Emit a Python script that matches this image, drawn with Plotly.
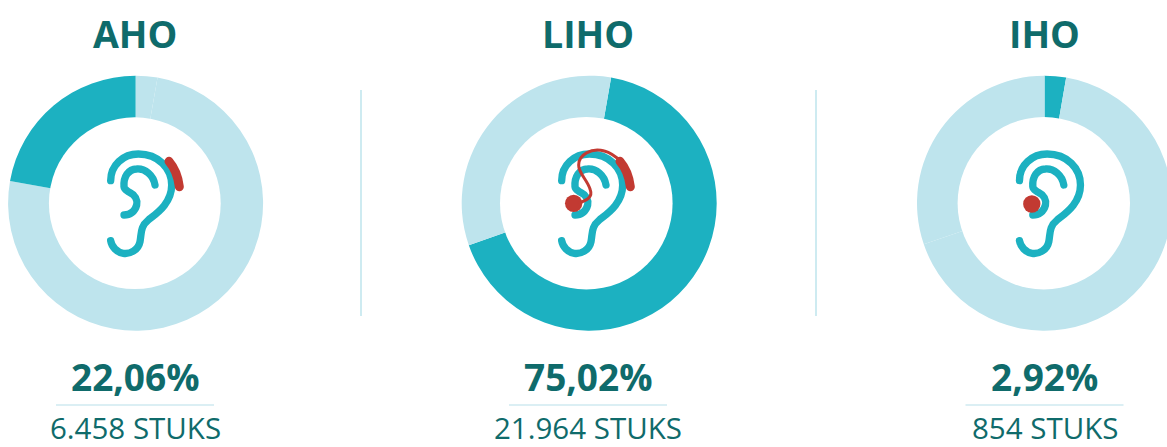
import base64
import plotly.graph_objects as go

categories = ["IHO", "LIHO", "AHO"]
percent_labels = ["2,92%", "75,02%", "22,06%"]
unit_labels = ["854 STUKS", "21.964 STUKS", "6.458 STUKS"]
# arc shares of each ring as drawn in the picture (clockwise from the ring's start angle)
aho_labels = ["IHO", "LIHO", "AHO"]
aho_ring = [2.75, 75.03, 22.22]
liho_labels = ["LIHO", "Overig"]
liho_ring = [66.9, 33.1]
iho_labels = ["IHO", "LIHO", "AHO"]
iho_ring = [2.72, 67.06, 30.22]

W, H = 1180, 447
DARK, LIGHT, TEXT = "#1cb1c1", "#bee4ed", "#0f6b6b"
FONT = "Open Sans"
R, CY = 127.5, 203.2
panels = [  # title, labels, ring values, start angle, ring centre, text centre, ear left, hole centre, hole radius
    (2, aho_labels, aho_ring, 0, 135.6, 135, 90, 134.8, 85.9),
    (1, liho_labels, liho_ring, 9.9, 589.2, 588, 541, 586.3, 86.3),
    (0, iho_labels, iho_ring, 0, 1044.5, 1044.5, 998.8, 1043.8, 86.2),
]


def px(x):
    return x / W


def py(y):
    return 1 - y / H


EAR = (
    '<g fill="none" stroke="#1cb1c1" stroke-width="22" stroke-linecap="round">'
    '<path d="M62,122 C62,75 100,42 145,42 C205,42 245,85 245,135 C245,190 200,220 175,240 '
    'C150,260 155,280 150,305 C145,330 120,343 100,340 C80,337 65,320 62,302"/>'
    '<path d="M195,135 C190,105 165,85 140,87 C115,88 100,110 102,140 C103,150 110,150 120,158 '
    'C135,165 143,180 140,195 C135,215 120,225 102,225"/></g>'
)
BAR = '<path d="M237,64 C255,85 265,115 268,140" fill="none" stroke="#c23a32" stroke-width="27" stroke-linecap="round"/>'
WIRE = ('<path d="M115,188 C140,180 155,170 148,150 C140,120 112,100 113,75 C113,45 150,22 190,33 '
        'C210,38 225,50 242,66" fill="none" stroke="#c23a32" stroke-width="9" stroke-linecap="round"/>')
DOT = '<circle cx="{}" cy="{}" r="26" fill="#c23a32"/>'
ICONS = {2: EAR + BAR, 1: EAR + BAR + DOT.format(98, 190) + WIRE, 0: EAR + DOT.format(99, 192)}


def uri(body, hole_r, dx, dy):
    s = 2 * hole_r + 2
    svg = (f'<svg xmlns="http://www.w3.org/2000/svg" viewBox="0 0 {s} {s}" width="{s}" height="{s}">'
           f'<circle cx="{s/2}" cy="{s/2}" r="{hole_r}" fill="white"/>'
           f'<g transform="translate({dx},{dy}) scale({1/3})">{body}</g></svg>')
    return "data:image/svg+xml;base64," + base64.b64encode(svg.encode()).decode()


fig = go.Figure()
annotations, shapes, images = [], [], []
for idx, labels, ring, start, cx, tx, ear_x, hole_x, hole_r in panels:
    colors = [DARK if lab == categories[idx] else LIGHT for lab in labels]
    fig.add_trace(go.Pie(
        labels=labels, values=ring, sort=False, direction="clockwise", rotation=start,
        hole=0.6, textinfo="none", hoverinfo="label", showlegend=False,
        marker=dict(colors=colors, line=dict(width=0)),
        domain=dict(x=[px(cx - R), px(cx + R)], y=[py(CY + R), py(CY - R)]),
    ))
    for text, y, size, bold in [
        (categories[idx], 33, 37.5, True),
        (percent_labels[idx], 376, 37, True),
        (unit_labels[idx], 427, 29.5, False),
    ]:
        annotations.append(dict(
            text=f"<b>{text}</b>" if bold else text, x=px(tx), y=py(y), xref="paper", yref="paper",
            xanchor="center", yanchor="middle", showarrow=False,
            font=dict(family=FONT, size=size, color=TEXT),
        ))
    shapes.append(dict(type="line", xref="paper", yref="paper", x0=px(tx - 79), x1=px(tx + 79),
                       y0=py(405), y1=py(405), line=dict(color="#cfeaf0", width=1.5)))
    left, top = hole_x - hole_r - 1, CY - hole_r - 1
    size = 2 * hole_r + 2
    images.append(dict(source=uri(ICONS[idx], hole_r, ear_x - left, 140 - top), xref="paper", yref="paper",
                       x=px(left), y=py(top), sizex=size / W, sizey=size / H,
                       xanchor="left", yanchor="top", sizing="stretch", layer="above"))

for x in (361, 816):
    shapes.append(dict(type="line", xref="paper", yref="paper", x0=px(x), x1=px(x),
                       y0=py(90), y1=py(316), line=dict(color=LIGHT, width=1.5)))

fig.update_layout(width=W, height=H, margin=dict(l=0, r=0, t=0, b=0), paper_bgcolor="white",
                  annotations=annotations, shapes=shapes, images=images)
fig.write_html("out.html", post_script="document.body.style.margin='0';document.body.style.overflow='hidden';",
               config=dict(displayModeBar=False))
